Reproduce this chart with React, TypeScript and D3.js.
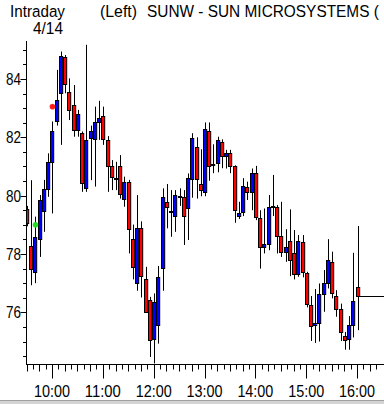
import React, { useLayoutEffect, useRef, useState } from "react";
import * as d3 from "d3";

const times = [
  "9:30","9:35","9:40","9:45","9:50","9:55","10:00","10:05","10:10","10:15","10:20","10:25",
  "10:30","10:35","10:40","10:45","10:50","10:55","11:00","11:05","11:10","11:15","11:20","11:25",
  "11:30","11:35","11:40","11:45","11:50","11:55","12:00","12:05","12:10","12:15","12:20","12:25",
  "12:30","12:35","12:40","12:45","12:50","12:55","13:00","13:05","13:10","13:15","13:20","13:25",
  "13:30","13:35","13:40","13:45","13:50","13:55","14:00","14:05","14:10","14:15","14:20","14:25",
  "14:30","14:35","14:40","14:45","14:50","14:55","15:00","15:05","15:10","15:15","15:20","15:25",
  "15:30","15:35","15:40","15:45","15:50","15:55","16:00"
];
const opens = [
  79.53,78.27,77.39,78.51,79.48,80.22,81.17,82.55,83.51,84.74,83.54,83.09,
  82.25,82.14,80.25,81.99,81.93,82.54,82.72,81.91,81.02,80.57,81.02,79.90,
  80.46,78.50,77.02,78.89,77.13,76.44,75.07,75.58,77.53,79.77,79.44,79.30,
  79.98,79.94,79.56,80.56,81.66,80.39,80.11,82.23,81.06,81.11,81.84,81.35,
  81.45,81.02,79.30,79.44,80.31,80.11,80.76,79.25,78.23,78.33,79.61,79.62,
  78.63,78.07,78.44,78.02,77.33,78.40,77.36,76.25,75.58,75.62,76.62,77.01,
  77.74,76.56,76.13,75.18,75.07,75.58,76.88
];
const highs = [
  79.65,80.53,79.28,80.02,80.54,81.45,82.54,84.31,84.94,84.82,84.02,83.79,
  82.94,82.20,85.17,82.40,83.05,83.25,83.05,82.04,81.22,81.16,81.39,80.65,
  80.54,79.01,80.02,79.12,77.56,76.53,76.65,77.59,80.25,80.40,80.19,80.19,
  80.25,80.19,80.76,82.14,82.00,81.59,82.51,82.51,81.76,82.02,81.93,81.57,
  81.57,81.04,79.79,80.60,80.48,80.93,81.02,79.50,79.56,80.02,80.71,79.68,
  79.79,78.85,79.53,78.82,78.65,78.65,77.39,76.56,76.80,76.99,77.45,78.51,
  78.08,76.76,76.30,75.33,75.87,78.04,78.96
];
const lows = [
  78.95,76.93,77.00,77.90,78.76,79.96,79.39,82.40,81.74,83.51,82.59,82.02,
  82.02,80.13,80.13,80.53,80.31,81.91,81.74,80.13,80.19,80.19,79.90,79.62,
  78.02,77.13,76.74,76.51,75.98,74.47,74.25,74.93,76.74,78.88,78.59,78.76,
  79.65,78.31,78.48,79.93,79.90,79.98,79.98,80.51,80.77,80.80,80.94,80.93,
  80.77,79.07,79.20,79.30,79.85,79.50,79.16,77.50,78.02,78.13,79.30,78.02,
  77.90,77.73,77.24,77.13,77.22,77.20,76.17,75.02,74.95,75.00,76.02,76.82,
  76.48,75.85,75.02,74.72,74.72,75.14,75.39
];
const closes = [
  79.05,77.47,78.57,79.85,80.23,81.14,82.22,83.27,84.79,83.82,82.94,82.25,
  82.80,80.42,81.91,82.22,82.52,82.65,81.93,81.03,80.63,80.60,80.04,80.46,
  78.84,77.54,78.89,77.24,76.02,75.05,76.36,77.20,79.94,79.60,79.46,80.01,
  80.00,79.30,80.59,81.96,80.56,80.18,82.27,81.00,81.08,81.91,81.37,81.45,
  81.02,79.51,79.39,80.32,80.11,80.76,79.28,78.23,78.33,79.62,79.63,78.61,
  78.07,78.25,77.81,77.31,78.44,77.39,76.27,75.53,75.62,76.62,77.01,77.81,
  76.65,76.10,75.33,75.05,75.56,76.38,76.56
];

const yTickLabels = [76, 78, 80, 82, 84];
const xTickLabels = ["10:00", "11:00", "12:00", "13:00", "14:00", "15:00", "16:00"];
const markerTimes = ["10:00", "9:40"];
const markerValues = [83.05, 79.0];
const markerColors = ["#ff1a1a", "#22e022"];

const toMin = (s: string) => {
  const [h, m] = s.split(":").map(Number);
  return h * 60 + m;
};

function FitText({ x, y, width, fontSize, children }: { x: number; y: number; width: number; fontSize: number; children: string }) {
  const ref = useRef<SVGTextElement>(null);
  const [sx, setSx] = useState(1);
  useLayoutEffect(() => {
    if (ref.current) {
      const w = ref.current.getComputedTextLength();
      if (w > 0) setSx(width / w);
    }
  }, [width, children]);
  return (
    <text ref={ref} x={0} y={0} fontSize={fontSize} transform={`translate(${x},${y}) scale(${sx},1)`}>
      {children}
    </text>
  );
}

export default function App() {
  const W = 384, H = 404;
  const x = d3.scaleLinear().domain([570, 960]).range([27, 357.6]);
  const y = d3.scaleLinear().domain([74.22, 85.3]).range([364.3, 41]);
  const axisX = 26.5;
  const axisY = 364.5;
  const font = "'Liberation Sans Narrow', 'Liberation Sans', Arial, sans-serif";

  const yMinor = d3.range(74.5, 85.01, 0.5);
  const xMinor = d3.range(570, 990, 7.5);

  const candles = times.map((t, i) => {
    const o = opens[i], c = closes[i], hi = highs[i], lo = lows[i];
    const cx = x(toMin(t));
    const left = Math.round(cx - 2);
    const wx = left + 2.5;
    const top = y(Math.max(o, c));
    const bot = y(Math.min(o, c));
    const up = c >= o;
    const by = Math.round(top) + 0.5;
    const bh = Math.max(1, Math.round(bot) - Math.round(top));
    return (
      <g key={i}>
        <line x1={wx} x2={wx} y1={y(hi)} y2={y(lo)} stroke="#000" strokeWidth={1} />
        <rect x={left + 0.5} y={by} width={3.2} height={bh}
          fill={up ? "#0000ff" : "#ff0000"} stroke="#000" strokeWidth={1} />
      </g>
    );
  });

  const last = times.length - 1;
  const lastX = Math.round(x(toMin(times[last])) - 2) + 4;

  return (
    <svg width={W} height={H} style={{ position: "absolute", left: 0, top: 0, background: "#fff" }}
      fontFamily={font}>
      <defs>
        <clipPath id="plot">
          <rect x={27} y={0} width={W} height={364} />
        </clipPath>
      </defs>
      <rect x={0} y={0} width={W} height={H} fill="#fff" />

      <FitText x={10} y={17} fontSize={16.5} width={55}>Intraday</FitText>
      <FitText x={33} y={33.5} fontSize={16.5} width={30}>4/14</FitText>
      <FitText x={100} y={17} fontSize={16.5} width={37}>(Left)</FitText>
      <FitText x={147} y={17} fontSize={16.5} width={232}>SUNW - SUN MICROSYSTEMS (</FitText>

      <g clipPath="url(#plot)">
        {candles}
        <line x1={lastX} x2={W} y1={Math.round(y(closes[last])) + 0.5} y2={Math.round(y(closes[last])) + 0.5}
          stroke="#000" strokeWidth={1} />
        {markerTimes.map((t, i) => (
          <circle key={i} cx={x(toMin(t))} cy={y(markerValues[i])} r={2.6}
            fill={markerColors[i]} stroke={markerColors[i]} strokeOpacity={0.4} strokeWidth={1} />
        ))}
      </g>

      {/* Y axis */}
      <line x1={axisX} x2={axisX} y1={41} y2={axisY + 0.5} stroke="#000" strokeWidth={1} />
      {yMinor.map((v, i) => {
        const isMajor = yTickLabels.includes(Math.round(v * 10) / 10);
        const yy = Math.round(y(v)) + 0.5;
        return (
          <line key={i} x1={isMajor ? 20.5 : 23} x2={axisX} y1={yy} y2={yy} stroke="#000" strokeWidth={1} />
        );
      })}
      {yTickLabels.map((v) => (
        <text key={v} x={21} y={y(v) + 6} fontSize={16.5} textAnchor="end" textLength={15}
          lengthAdjust="spacingAndGlyphs">{v}</text>
      ))}

      {/* X axis */}
      <line x1={axisX} x2={W} y1={axisY} y2={axisY} stroke="#000" strokeWidth={1} />
      {xMinor.map((m, i) => {
        const isHour = m % 60 === 0;
        const isQuarter = m % 15 === 0;
        const xx = Math.round(x(m) - 0.5) + 0.5;
        if (xx < axisX) return null;
        return (
          <line key={i} x1={xx} x2={xx} y1={axisY} y2={axisY + (isHour ? 14 : isQuarter ? 7 : 5)}
            stroke="#000" strokeWidth={1} />
        );
      })}
      {xTickLabels.map((s) => (
        <text key={s} x={x(toMin(s)) - 0.5} y={397} fontSize={16.5} textAnchor="middle" textLength={36}
          lengthAdjust="spacingAndGlyphs">{s}</text>
      ))}

      <rect x={0} y={400} width={W} height={4} fill="#d4d4d4" />
      <line x1={0} x2={W} y1={400.5} y2={400.5} stroke="#a0a0a0" strokeWidth={1} />
    </svg>
  );
}
